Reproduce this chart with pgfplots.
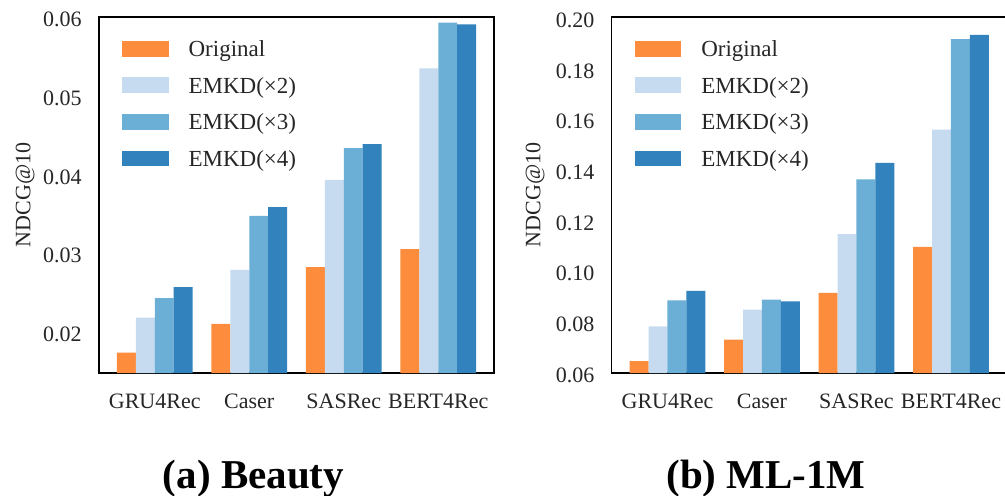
\documentclass[border=0pt]{standalone}
\usepackage{pgfplots}
\pgfplotsset{compat=1.18}
\usepackage{fontspec}
\setmainfont{Liberation Serif}
\definecolor{cOrig}{HTML}{FD8D3C}
\definecolor{cEtwo}{HTML}{C6DBEF}
\definecolor{cEthree}{HTML}{6BAED6}
\definecolor{cEfour}{HTML}{3182BD}
\definecolor{txt}{HTML}{262626}

\pgfplotsset{
  emkd/.style={
    ybar=0pt, bar width=0.2,
    scale only axis, width=197.5pt, height=178pt,
    xmin=-0.59, xmax=3.59,
    xtick={0,1,2,3}, xticklabels={GRU4Rec,Caser,SASRec,BERT4Rec},
    major tick length=0pt, minor tick length=0pt,
    scaled y ticks=false,
    tick label style={font=\fontsize{11}{13}\selectfont, text=txt},
    /pgf/number format/assume math mode=true,
    yticklabel style={/pgf/number format/fixed, /pgf/number format/fixed zerofill,
      /pgf/number format/precision=2, inner sep=0pt, xshift=-8.5pt, yshift=-1pt},
    xticklabel style={inner sep=0pt, yshift=-10.15pt},
    ylabel={NDCG@10},
    axis line style={black, line width=0.75pt},
    legend cell align=left,
    legend image code/.code={\fill[##1] (0pt,-2.75pt) rectangle (23.3pt,5.1pt);},
    legend style={draw=none, fill=none, inner sep=0pt, outer sep=0pt,
      at={(axis description cs:0,1)}, anchor=north west, xshift=11.5pt, yshift=-11.75pt,
      row sep=7.8pt, column sep=10pt, font=\fontsize{11.5}{13}\selectfont, text=txt,
      nodes={inner sep=0pt, text height=8pt, text depth=2.5pt}},
  }
}

\begin{document}
\begin{tikzpicture}
\useasboundingbox (0,0) rectangle (502.5pt,247.5pt);

% (a) Beauty
\begin{axis}[emkd, at={(49.5pt,61pt)}, anchor=south west,
  ymin=0.0148, ymax=0.0601,
  ytick={0.02,0.03,0.04,0.05,0.06},
  ylabel style={font=\fontsize{11}{13}\selectfont, text=txt, at={(axis description cs:-0.187,0.5)}, anchor=center}]
\addplot[fill=cOrig, draw=none] coordinates {(0,0.01740) (1,0.02106) (2,0.02827) (3,0.03056)};
\addplot[fill=cEtwo, draw=none] coordinates {(0,0.02186) (1,0.02793) (2,0.03938) (3,0.05355)};
\addplot[fill=cEthree, draw=none] coordinates {(0,0.02433) (1,0.03480) (2,0.04342) (3,0.05940)};
\addplot[fill=cEfour, draw=none] coordinates {(0,0.02573) (1,0.03591) (2,0.04393) (3,0.05915)};
\legend{Original,EMKD(×2),EMKD(×3),EMKD(×4)}
\end{axis}

% (b) ML-1M
\begin{axis}[emkd, at={(305.85pt,61pt)}, anchor=south west,
  ymin=0.06, ymax=0.2005,
  ytick={0.06,0.08,0.10,0.12,0.14,0.16,0.18,0.20},
  ylabel style={font=\fontsize{11}{13}\selectfont, text=txt, at={(axis description cs:-0.194,0.5)}, anchor=center}]
\addplot[fill=cOrig, draw=none] coordinates {(0,0.0647) (1,0.0732) (2,0.0916) (3,0.1098)};
\addplot[fill=cEtwo, draw=none] coordinates {(0,0.0784) (1,0.0850) (2,0.1148) (3,0.1561)};
\addplot[fill=cEthree, draw=none] coordinates {(0,0.0887) (1,0.0890) (2,0.1364) (3,0.1918)};
\addplot[fill=cEfour, draw=none] coordinates {(0,0.0924) (1,0.0883) (2,0.1429) (3,0.1934)};
\legend{Original,EMKD(×2),EMKD(×3),EMKD(×4)}
\end{axis}

\node[anchor=base, font=\fontsize{20.5}{24}\selectfont\bfseries, text=black] at (126.75pt,3.4pt) {(a) Beauty};
\node[anchor=base, font=\fontsize{20.5}{24}\selectfont\bfseries, text=black] at (383pt,3.4pt) {(b) ML-1M};
\end{tikzpicture}
\end{document}
